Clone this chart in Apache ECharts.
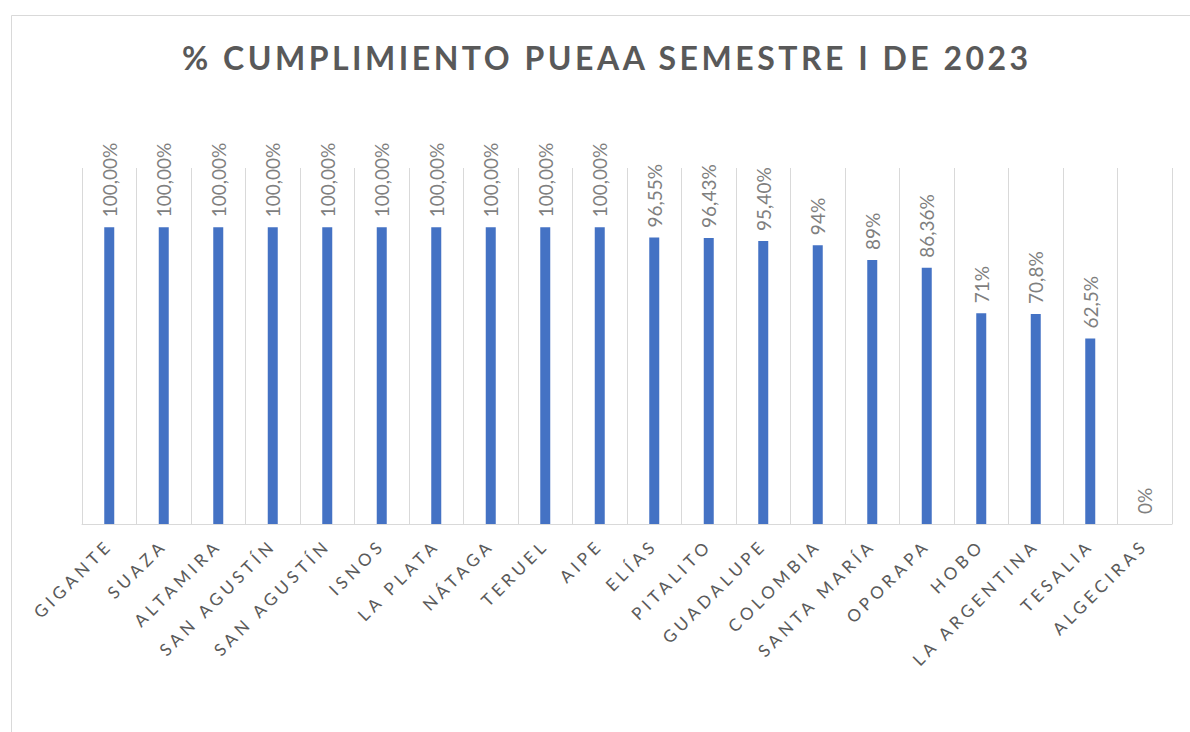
<!DOCTYPE html>
<html>
<head>
<meta charset="utf-8">
<script src="https://cdn.jsdelivr.net/npm/echarts@6/dist/echarts.min.js"></script>
<style>
	html, body { margin: 0; padding: 0; background: #fff; }
	#chart { width: 1190px; height: 732px; }
	/* spaced-out letters for title and category names */
	#chart svg text[fill="#595959"] { letter-spacing: 3.5px; }
	#chart svg text[fill="#5a5a5a"] { letter-spacing: 4.2px; }
</style>
</head>
<body>
<div id="chart"></div>
<script>
var categories = ['GIGANTE', 'SUAZA', 'ALTAMIRA', 'SAN AGUSTÍN', 'SAN AGUSTÍN', 'ISNOS', 'LA PLATA', 'NÁTAGA', 'TERUEL', 'AIPE',
	'ELÍAS', 'PITALITO', 'GUADALUPE', 'COLOMBIA', 'SANTA MARÍA', 'OPORAPA', 'HOBO', 'LA ARGENTINA', 'TESALIA', 'ALGECIRAS'];
var values = [1, 1, 1, 1, 1, 1, 1, 1, 1, 1,
	0.9655, 0.9643, 0.954, 0.94, 0.89, 0.8636, 0.71, 0.708, 0.625, 0];
var labelTexts = ['100,00%', '100,00%', '100,00%', '100,00%', '100,00%', '100,00%', '100,00%', '100,00%', '100,00%', '100,00%',
	'96,55%', '96,43%', '95,40%', '94%', '89%', '86,36%', '71%', '70,8%', '62,5%', '0%'];

var chart = echarts.init(document.getElementById('chart'), null, { renderer: 'svg' });
var option = {
	backgroundColor: '#ffffff',
	animation: false,
	title: {
		text: '% CUMPLIMIENTO PUEAA SEMESTRE I DE 2023',
		left: 177,
		top: 36,
		textStyle: {
			fontFamily: 'Lato',
			fontWeight: 'bold',
			fontSize: 32,
			color: '#595959'
		}
	},
	graphic: [{
		type: 'rect',
		left: 9,
		top: 13,
		shape: { width: 1200, height: 740 },
		style: { fill: 'none', stroke: '#d9d9d9', lineWidth: 1 },
		silent: true
	}],
	grid: { left: 82, right: 18, top: 168, bottom: 208 },
	xAxis: [{
		type: 'category',
		data: categories,
		axisLine: { lineStyle: { color: '#d9d9d9', width: 1 } },
		axisTick: { show: false },
		splitLine: { show: true, lineStyle: { color: '#d9d9d9', width: 1 } },
		axisLabel: {
			interval: 0,
			rotate: 45,
			margin: 18,
			fontFamily: 'Lato',
			fontSize: 17,
			color: '#5a5a5a'
		}
	}],
	yAxis: [{
		type: 'value',
		min: 0,
		max: 1.2,
		show: false,
		splitLine: { show: false }
	}],
	series: [{
		name: 'Cumplimiento',
		type: 'bar',
		barWidth: 10,
		data: values,
		itemStyle: { color: '#4472c4' },
		label: {
			show: true,
			position: 'top',
			rotate: 90,
			align: 'left',
			verticalAlign: 'middle',
			distance: 10,
			fontFamily: 'Lato',
			fontSize: 19,
			color: '#7f7f7f',
			formatter: function (p) {
				return labelTexts[p.dataIndex];
			}
		}
	}]
};
chart.setOption(option);
</script>
</body>
</html>
